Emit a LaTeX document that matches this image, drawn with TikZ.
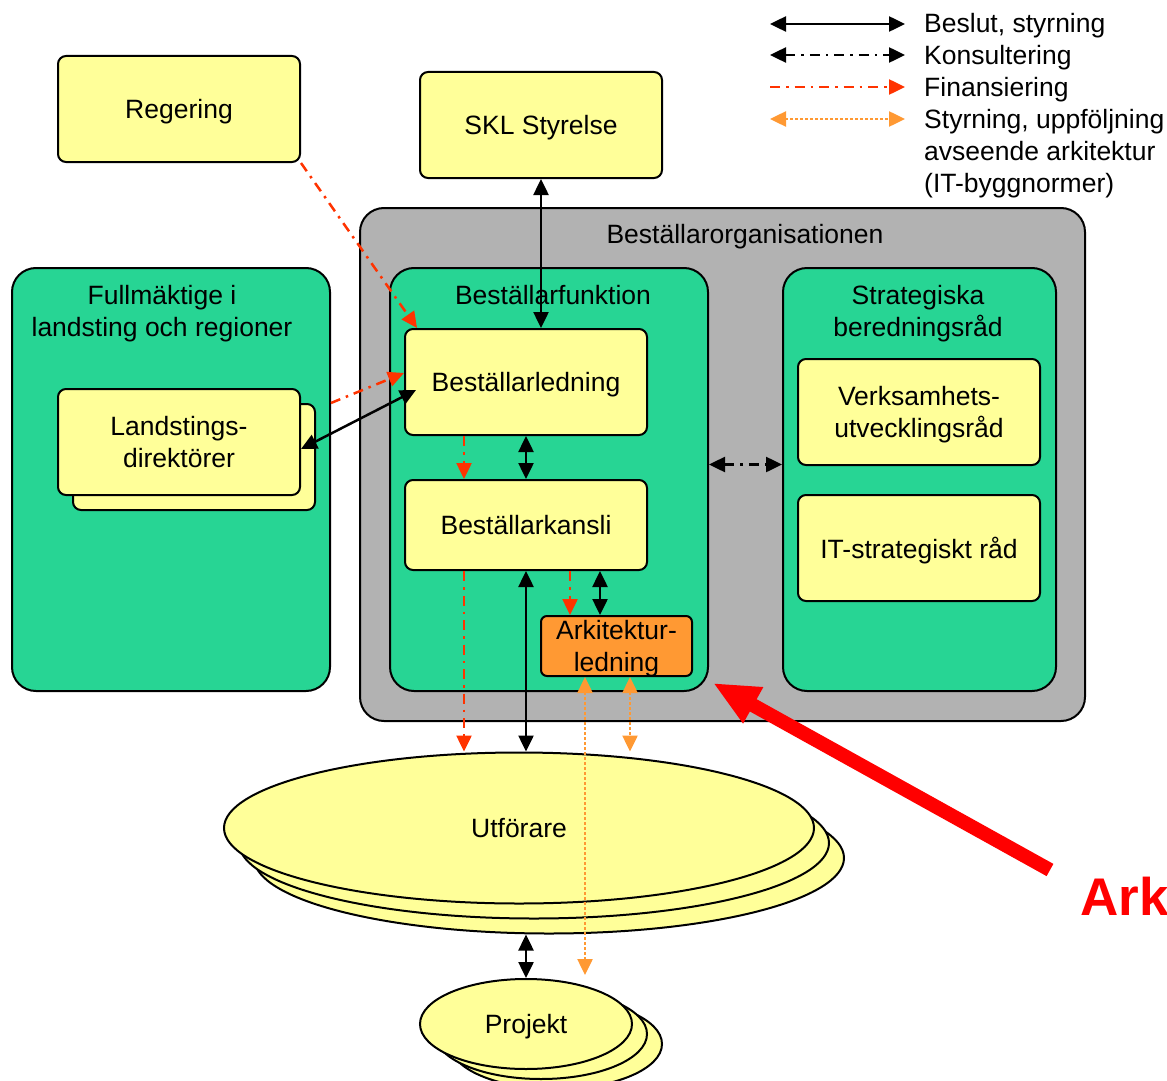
\documentclass[tikz,border=0pt]{standalone}
\usepackage{fontspec}
\setmainfont{Liberation Sans}
\usetikzlibrary{arrows.meta,positioning,shapes.geometric}
\definecolor{boxyellow}{HTML}{FFFF99}
\definecolor{orggray}{HTML}{B2B2B2}
\definecolor{funcgreen}{HTML}{27D594}
\definecolor{arkorange}{HTML}{FF9933}
\definecolor{finred}{HTML}{FF3300}
\tikzset{
ybox/.style={
  draw,
  line width=2pt,
  fill=boxyellow,
  rounded corners=8pt,
  minimum width=242pt,
  minimum height=106pt,
  inner sep=0pt,
  text depth=0pt,
  align=center
},
gbox/.style={draw,line width=2pt,fill=funcgreen,rounded corners=24pt,minimum height=423pt,inner sep=0pt},
obox/.style={draw,line width=2pt,fill=orggray,rounded corners=24pt,inner sep=0pt},
ell/.style={ellipse,draw,line width=2pt,fill=boxyellow,inner sep=0pt,text depth=0pt},
title/.style={align=center,text depth=0pt},
beslut/.style={line width=2.5pt,black},
konsult/.style={line width=2.5pt,black,dash pattern=on 10pt off 6pt on 2.5pt off 6pt},
finans/.style={line width=2.5pt,finred,dash pattern=on 10pt off 6pt on 2.5pt off 6pt},
arkstyr/.style={line width=2.5pt,arkorange,dash pattern=on 2.5pt off 2.5pt},
legtext/.style={anchor=base west,inner sep=0pt,align=left},
}

\begin{document}
\begin{tikzpicture}[x=1pt,y=-1pt,font=\fontsize{26.5}{32}\selectfont,
  >={Triangle[length=16pt,width=15pt]}]
\useasboundingbox (0,0) rectangle (1167,1081);
% the boxes
\node[ybox] (reg) at (179,109) {Regering};
\node[ybox] (skl) at (541,125) {SKL Styrelse};
\node[obox,minimum width=725pt,minimum height=513pt] (org) at (722.5,464.5) {};
\node[gbox,minimum width=318pt] (fm) at (171,479.5) {};
\node[gbox,minimum width=318pt] (bf) at (549,479.5) {};
\node[gbox,minimum width=273pt] (sr) at (919.5,479.5) {};
\node[title] (orgtitle) at (745,234) {Beställarorganisationen};
\node[title] (fmtitle) at (162,311) {Fullmäktige i\\landsting och regioner};
\node[title] (bftitle) at (553,295) {Beställarfunktion};
\node[title] (srtitle) at (918,311) {Strategiska\\beredningsråd};
\node[ybox] (ldback) at (194,457) {};
\node[ybox] (ld) at (179,442) {Landstings-\\direktörer};
\node[ybox] (bl) at (526,382) {Beställarledning};
\node[ybox,minimum height=90pt] (bk) at (526,525) {Beställarkansli};
\node[ybox,fill=arkorange,rounded corners=6pt,minimum width=151pt,minimum height=60pt] (ark) at (616.5,646) {Arkitektur-\\ledning};
\node[ybox] (vr) at (919,412) {Verksamhets-\\utvecklingsråd};
\node[ybox] (it) at (919,548) {IT-strategiskt råd};
% the executors
\foreach \k in {2,1}
{
  \node[ell,minimum width=590pt,minimum height=151pt] (utf\k) at (519+15*\k,828+15*\k) {};
}
\node[ell,minimum width=590pt,minimum height=151pt] (utf) at (519,828) {Utförare};
\foreach \k in {2,1}
{
  \node[ell,minimum width=212pt,minimum height=90pt] (prj\k) at (526+15*\k,1024+10*\k) {};
}
\node[ell,minimum width=212pt,minimum height=90pt] (prj) at (526,1024) {Projekt};
% the arrows
\draw[beslut,<->] (skl.south -| 541,0) -- (bl.north -| 541,0);
\draw[finans,->] (reg.south east) -- ([xshift=13pt]bl.north west);
\draw[finans,->] ([yshift=-21pt]fm.east |- bl.west) -- ([yshift=9pt]bl.west);
\draw[beslut,<->] ([yshift=-7pt]ld.east) -- ([xshift=12pt,yshift=-8pt]bl.west);
\draw[finans,->] ([xshift=60pt]bl.south west) -- ([xshift=60pt]bk.north west);
\draw[beslut,<->] (bl.south) -- (bk.north);
\draw[finans,->] ([xshift=60pt]bk.south west) -- ([xshift=60pt]bk.south west |- utf.north);
\draw[beslut,<->] (bk.south) -- (bk.south |- utf.north);
\draw[finans,->] ([xshift=166pt]bk.south west) -- ([xshift=30pt]ark.north west);
\draw[beslut,<->] ([xshift=196pt]bk.south west) -- ([xshift=60pt]ark.north west);
\draw[arkstyr,<->] ([xshift=45pt]ark.south west) -- ([xshift=45pt,yshift=3pt]ark.south west |- prj.north);
\draw[arkstyr,<->] ([xshift=90pt]ark.south west) -- ([xshift=90pt]ark.south west |- utf.north);
\draw[beslut,<->] (prj.north |- utf2.south) -- (prj.north);
\draw[konsult,<->] ([yshift=15pt]bf.east) -- ([yshift=15pt]sr.west);
% the highlight
\node[anchor=base west,inner sep=0pt,text=red,font=\fontsize{53}{60}\selectfont\bfseries] (arktext) at (1080,915) {Ark};
\coordinate (redstart) at (1050,870);
\draw[line width=14pt,red,-{Triangle[length=46pt,width=38pt]}] (redstart) -- ([xshift=4pt,yshift=9pt]bf.south east);
% the legend
\node[legtext] (l1) at (924,33) {Beslut, styrning};
\node[legtext] (l2) at (924,64) {Konsultering};
\node[legtext] (l3) at (924,96) {Finansiering};
\node[legtext] (l4) at (924,192) {Styrning, uppföljning\\avseende arkitektur\\(IT-byggnormer)};
\draw[beslut,<->] ([xshift=-154pt,yshift=9pt]l1.base west) -- ([xshift=-19pt,yshift=9pt]l1.base west);
\draw[konsult,<->] ([xshift=-154pt,yshift=9pt]l2.base west) -- ([xshift=-19pt,yshift=9pt]l2.base west);
\draw[finans,->] ([xshift=-154pt,yshift=9pt]l3.base west) -- ([xshift=-19pt,yshift=9pt]l3.base west);
\draw[arkstyr,<->] ([xshift=-154pt,yshift=73pt]l4.base west) -- ([xshift=-19pt,yshift=73pt]l4.base west);
\end{tikzpicture}
\end{document}
